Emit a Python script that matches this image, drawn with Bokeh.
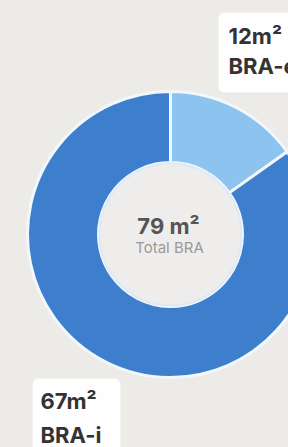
import math
from bokeh.plotting import figure
from bokeh.models import Range1d, ColumnDataSource, BoxAnnotation
from bokeh.core.properties import value
from bokeh.embed import file_html
from bokeh.resources import INLINE

# Data
categories = ["BRA-e", "BRA-i"]
values = [12, 67]
colors = ["#8cc4ef", "#3e7fcd"]
unit = "m²"
total_label = "Total BRA"

total = sum(values)

W, H = 288, 447
p = figure(width=W, height=H, output_backend="svg", toolbar_location=None,
           x_range=Range1d(0, W), y_range=Range1d(0, H),
           min_border=0, outline_line_color=None,
           background_fill_color="#ecebe8", border_fill_color="#ecebe8")
p.axis.visible = False
p.grid.visible = False

cx, cy = 170, H - 234
r_out, r_in = 143, 72

# clockwise from top
starts, ends = [], []
ang = math.pi / 2
for v in values:
    sweep = 2 * math.pi * v / total
    ends.append(ang)
    starts.append(ang - sweep)
    ang -= sweep

src = ColumnDataSource(dict(start=starts, end=ends, color=colors,
                            x=[cx] * len(values), y=[cy] * len(values)))
p.annular_wedge(x="x", y="y", inner_radius=r_in, outer_radius=r_out,
                inner_radius_units="screen", outer_radius_units="screen",
                start_angle="start", end_angle="end", fill_color="color",
                line_color="#f2f7fc", line_width=3, source=src)
p.circle(x=[cx], y=[cy], radius=r_in - 1, radius_units="screen",
         fill_color="#eeedeb", line_color="#dceaf6", line_width=2)

dy = 8  # text baseline correction

# center text
p.text(x=[cx - 2], y=[H - 233 + dy], text=[f"{total} {unit}"], text_align="center",
       text_baseline="alphabetic", text_font=value("Inter"), text_font_style="bold",
       text_font_size="22px", text_color="#555555")
p.text(x=[cx - 1], y=[H - 255 + dy], text=[total_label], text_align="center",
       text_baseline="alphabetic", text_font=value("Inter"),
       text_font_size="15px", text_color="#9a9a9a")

# label boxes
for l, r, t, b in [(218, 310, 12, 92), (32, 120, 378, 470)]:
    p.add_layout(BoxAnnotation(left=l, right=r, top=H - t, bottom=H - b,
                               fill_color="white", fill_alpha=0.95, line_color=None,
                               border_radius=6, level="underlay"))

label_x = [228, 40]
label_y1 = [H - 43 + dy, H - 408 + dy]
label_y2 = [H - 73 + dy, H - 442 + dy]
p.text(x=label_x, y=label_y1, text=[f"{v}{unit}" for v in values],
       text_font=value("Inter"), text_font_style="bold", text_font_size="22px",
       text_color="#333333", text_baseline="alphabetic")
p.text(x=label_x, y=label_y2, text=categories,
       text_font=value("Inter"), text_font_style="bold", text_font_size="22px",
       text_color="#333333", text_baseline="alphabetic")

html = file_html(p, INLINE)
html = html.replace("<head>", "<head><style>html,body{background:#ecebe8;margin:0;padding:0;}</style>", 1)
open("out.html", "w").write(html)
